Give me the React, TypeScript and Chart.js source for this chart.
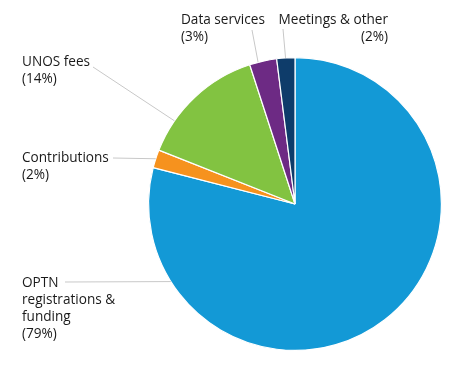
import React, { useEffect, useRef } from "react";
import { Chart, registerables } from "chart.js";

Chart.register(...registerables);

const categories: string[][] = [
  ["OPTN", "registrations &", "funding"],
  ["Contributions"],
  ["UNOS fees"],
  ["Data services"],
  ["Meetings & other"],
];
const percentages: number[] = [79, 2, 14, 3, 2];
const sliceColors: string[] = ["#1399d6", "#f6921e", "#82c341", "#6d2a84", "#0e3c6a"];

// label layout: text anchor, alignment, leader line start, angle (deg, clockwise from top) where line meets the pie edge
const labelLayout = [
  { x: 22, y: 283, align: "left", sx: 65, sy: 282, angle: 238 },
  { x: 22, y: 158, align: "left", sx: 113, sy: 158, angle: 288 },
  { x: 22, y: 62, align: "left", sx: 93, sy: 67, angle: 304.6 },
  { x: 181, y: 20, align: "left", sx: 252, sy: 30, angle: 345.4 },
  { x: 388, y: 20, align: "right", sx: 283, sy: 29, angle: 356.3 },
];

const FONT = '13.6px "Open Sans", sans-serif';
const LINE_H = 17;

const labelPlugin = {
  id: "outerLabels",
  afterDraw(chart: any) {
    const ctx = chart.ctx;
    const arc = chart.getDatasetMeta(0).data[0];
    if (!arc) return;
    const cx = arc.x;
    const cy = arc.y;
    const r = arc.outerRadius;
    ctx.save();
    labelLayout.forEach((l, i) => {
      const a = (l.angle * Math.PI) / 180;
      const ex = cx + r * Math.sin(a);
      const ey = cy - r * Math.cos(a);
      ctx.strokeStyle = "#c8c8c8";
      ctx.lineWidth = 1;
      ctx.beginPath();
      ctx.moveTo(l.sx, l.sy);
      ctx.lineTo(ex, ey);
      ctx.stroke();
      const lines = [...categories[i], `(${percentages[i]}%)`];
      ctx.font = FONT;
      ctx.fillStyle = "#1a1a1a";
      ctx.textAlign = l.align;
      ctx.textBaseline = "middle";
      lines.forEach((t, k) => ctx.fillText(t, l.x, l.y + k * LINE_H));
    });
    ctx.restore();
  },
};

export default function App() {
  const ref = useRef<HTMLCanvasElement | null>(null);
  useEffect(() => {
    if (!ref.current) return;
    const chart = new Chart(ref.current, {
      type: "pie",
      data: {
        labels: categories,
        datasets: [
          {
            data: percentages,
            backgroundColor: sliceColors,
            borderColor: "#ffffff",
            borderWidth: 1.2,
          },
        ],
      },
      options: {
        responsive: false,
        animation: false,
        layout: { padding: { left: 148, right: 24, top: 57, bottom: 26 } },
        plugins: {
          legend: { display: false },
          tooltip: { enabled: false },
        },
      },
      plugins: [labelPlugin],
    });
    return () => chart.destroy();
  }, []);
  return (
    <div style={{ position: "absolute", left: 0, top: 0, width: 466, height: 377, background: "#fff" }}>
      <canvas ref={ref} width={466} height={377} style={{ width: 466, height: 377 }} />
    </div>
  );
}
